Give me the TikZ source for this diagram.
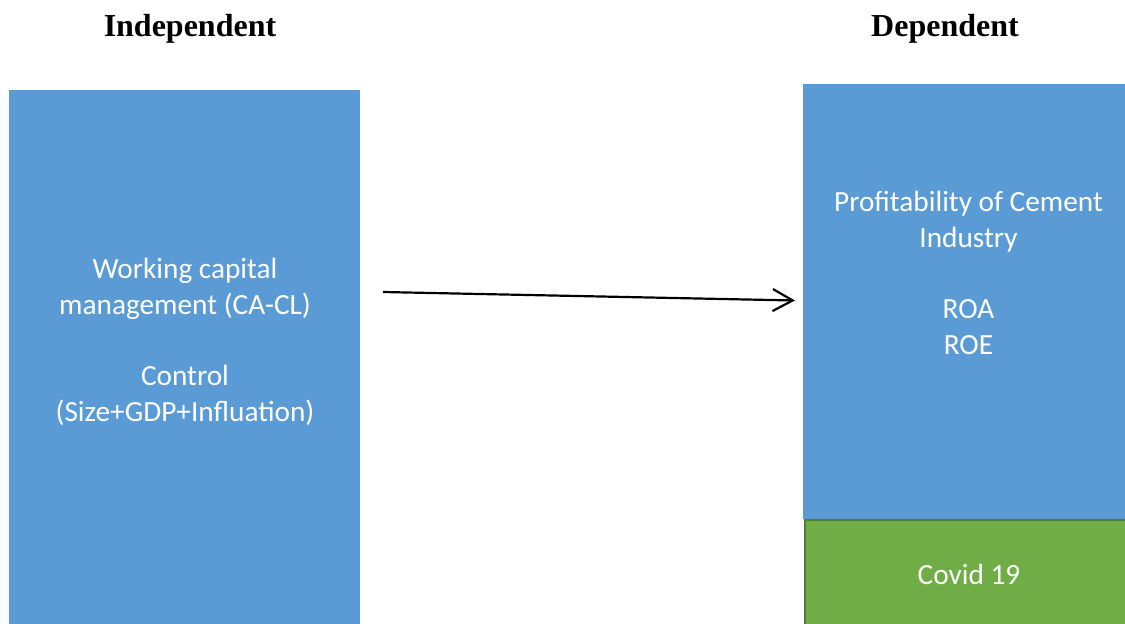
\documentclass[tikz,border=0pt]{standalone}
\usepackage{fontspec}
\setmainfont{Carlito}
\newfontfamily\titlefont{Liberation Serif}
\usetikzlibrary{arrows.meta}
\definecolor{boxblue}{HTML}{5B9BD5}
\definecolor{boxgreen}{HTML}{70AD47}
\definecolor{greenedge}{HTML}{507E32}
\tikzset{
  bluebox/.style={fill=boxblue, draw=none, inner sep=0pt},
  greenbox/.style={fill=boxgreen, draw=greenedge, line width=2pt, inner sep=0pt},
  boxtext/.style={text=white, align=center, inner sep=0pt, font=\fontsize{29.3}{35.8}\selectfont},
  titletext/.style={anchor=base, inner sep=0pt, font=\titlefont\bfseries\fontsize{32}{36}\selectfont},
  flow/.style={line width=2.2pt, -{Straight Barb[length=20pt,width=22pt,line width=2.2pt]}}
}
\begin{document}
\begin{tikzpicture}[x=1pt,y=-1pt]
\clip (0,0) rectangle (1125,624);
\fill[white] (0,0) rectangle (1125,624);
\node[titletext] (tindep) at (190,36) {Independent};
\node[titletext] (tdep) at (945,36) {Dependent};
\node[bluebox, minimum width=351pt, minimum height=560pt, anchor=north west] (left) at (9,89.5) {};
\node[bluebox, minimum width=330pt, minimum height=435pt, anchor=north west] (right) at (803,84) {};
\node[greenbox, minimum width=330pt, minimum height=120pt, anchor=north west] (covid) at (804,519) {};
\node[boxtext] (ltext) at (185,342) {Working capital\\management (CA-CL)\\[35.8pt]Control\\(Size+GDP+Influation)};
\node[boxtext] (rtext) at (968.5,273) {Profitability of Cement\\Industry\\[35.8pt]ROA\\ROE};
\node[boxtext] (ctext) at (969,574) {Covid 19};
\coordinate (as) at (383,292);
\coordinate (ae) at (795,300.5);
\draw[flow] (as) -- (ae);
\end{tikzpicture}
\end{document}
